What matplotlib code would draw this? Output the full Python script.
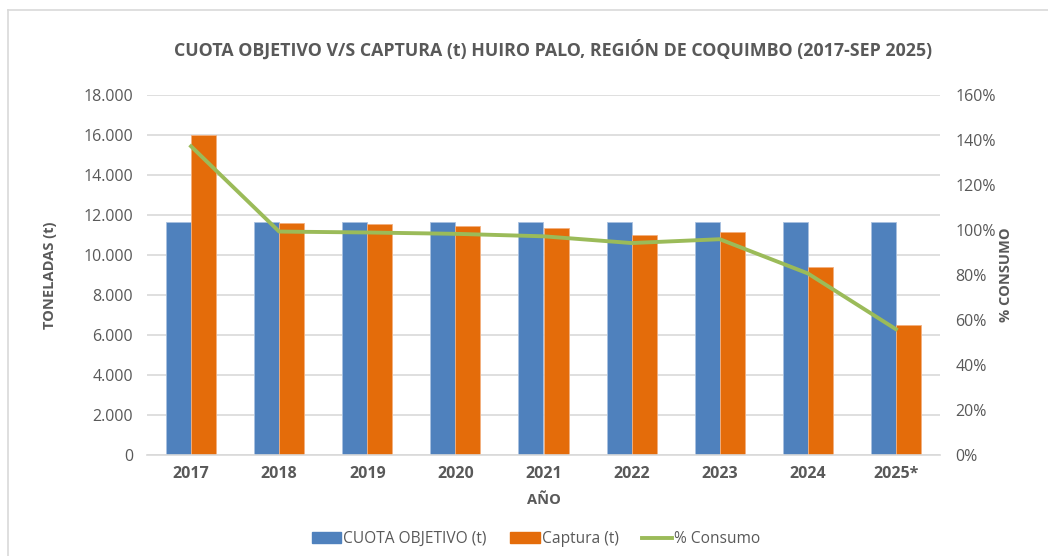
import matplotlib
matplotlib.use("Agg")
import matplotlib.pyplot as plt
import matplotlib.ticker as mticker
from matplotlib.lines import Line2D
import numpy as np

plt.rcParams["font.family"] = ["Open Sans", "DejaVu Sans"]

years = ["2017", "2018", "2019", "2020", "2021", "2022", "2023", "2024", "2025*"]
cuota = [11665, 11665, 11665, 11665, 11665, 11665, 11630, 11630, 11630]
captura = [16000, 11585, 11535, 11465, 11335, 10985, 11150, 9385, 6500]
consumo = [137.2, 99.3, 98.9, 98.3, 97.2, 94.2, 95.9, 80.7, 55.9]

BLUE = "#4f81bd"
ORANGE = "#e46c0a"
GREEN = "#9bbb59"
TXT = "#595959"
GRID = "#d9d9d9"

fig = plt.figure(figsize=(10.48, 5.56), dpi=100)
ax = fig.add_axes([147 / 1048, 1 - 455 / 556, (940 - 147) / 1048, 360 / 556])

x = np.arange(len(years))
w = 0.284
ax.bar(x - w / 2, cuota, w, color=BLUE, edgecolor="#a9c1e0", linewidth=0.6, zorder=2)
ax.bar(x + w / 2, captura, w, color=ORANGE, edgecolor="#f3b07f", linewidth=0.6, zorder=2)

ax.set_xlim(-0.5, len(years) - 0.5)
ax.set_ylim(0, 18000)
ax.yaxis.set_major_locator(mticker.MultipleLocator(2000))
ax.yaxis.set_major_formatter(mticker.FuncFormatter(lambda v, _: f"{v:,.0f}".replace(",", ".")))
ax.grid(axis="y", color=GRID, linewidth=1.2, zorder=0)
ax.set_axisbelow(True)
for s in ["top", "right", "left"]:
    ax.spines[s].set_visible(False)
ax.spines["bottom"].set_color(GRID)
ax.spines["bottom"].set_linewidth(1.2)
ax.tick_params(axis="y", length=0, pad=10, labelsize=11.5, labelcolor=TXT)
ax.tick_params(axis="x", length=0, pad=8, labelsize=11.5, labelcolor=TXT)
ax.set_xticks(x)
ax.set_xticklabels(years, fontweight="bold")
ax.set_ylabel("TONELADAS (t)", fontsize=10.5, fontweight="bold", color=TXT, labelpad=19)
ax.set_xlabel("AÑO", fontsize=10.5, fontweight="bold", color=TXT, labelpad=8)

ax2 = ax.twinx()
ax2.plot(x, consumo, color=GREEN, linewidth=2.8, zorder=3)
ax2.set_ylim(0, 160)
ax2.yaxis.set_major_locator(mticker.MultipleLocator(20))
ax2.yaxis.set_major_formatter(mticker.FuncFormatter(lambda v, _: f"{v:.0f}%"))
for s in ["top", "right", "left", "bottom"]:
    ax2.spines[s].set_visible(False)
ax2.tick_params(axis="y", length=0, pad=11, labelsize=11.5, labelcolor=TXT)
ax2.set_ylabel("% CONSUMO", fontsize=10.5, fontweight="bold", color=TXT, rotation=90, labelpad=2)

fig.text(553 / 1048, 1 - 50 / 556, "CUOTA OBJETIVO V/S CAPTURA (t) HUIRO PALO, REGIÓN DE COQUIMBO (2017-SEP 2025)",
         ha="center", va="center", fontsize=12.8, fontweight="bold", color=TXT)

handles = [
    plt.Rectangle((0, 0), 1, 1, color=BLUE),
    plt.Rectangle((0, 0), 1, 1, color=ORANGE),
    Line2D([0], [0], color=GREEN, linewidth=2.8),
]
fig.legend(handles, ["CUOTA OBJETIVO (t)", "Captura (t)", "% Consumo"], loc="center",
           bbox_to_anchor=(536 / 1048, 1 - 539 / 556), ncol=3, frameon=False, fontsize=11.2,
           labelcolor=TXT, handlelength=1.9, handleheight=0.7, columnspacing=1.5, handletextpad=0.15)

# chart area border (top and left edges visible)
fig.add_artist(Line2D([8 / 1048, 8 / 1048], [0, 1 - 10 / 556], transform=fig.transFigure, color=GRID, linewidth=1.2))
fig.add_artist(Line2D([8 / 1048, 1], [1 - 10 / 556, 1 - 10 / 556], transform=fig.transFigure, color=GRID, linewidth=1.2))

fig.savefig("out.png", dpi=100, facecolor="white")
